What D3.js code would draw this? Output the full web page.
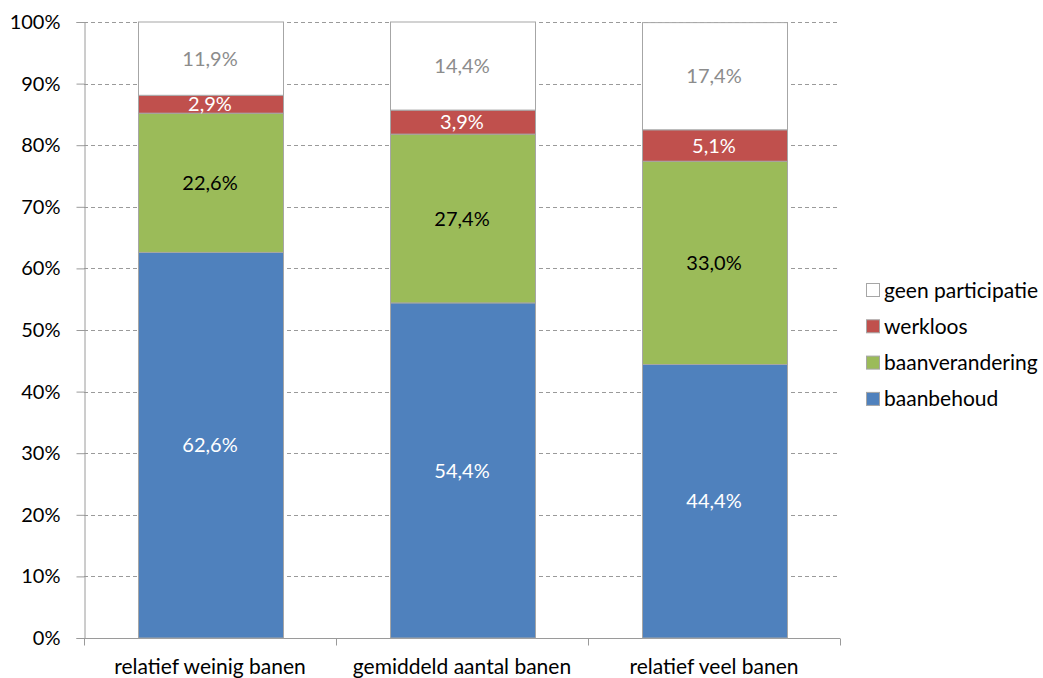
<!DOCTYPE html>
<html>
<head>
<meta charset="utf-8">
<script src="https://cdn.jsdelivr.net/npm/d3@7"></script>
<style>
  body { margin: 0; background: #fff; }
  svg text { font-family: Lato, "Open Sans", sans-serif; }
</style>
</head>
<body>
<div id="chart"></div>
<script>
  // Data
  var categories = ["relatief weinig banen", "gemiddeld aantal banen", "relatief veel banen"]
  var seriesNames = ["baanbehoud", "baanverandering", "werkloos", "geen participatie"]
  var baanbehoud = [62.6, 54.4, 44.4]
  var baanverandering = [22.6, 27.4, 33.0]
  var werkloos = [2.9, 3.9, 5.1]
  var geenParticipatie = [11.9, 14.4, 17.4]
  var yTicks = [0, 10, 20, 30, 40, 50, 60, 70, 80, 90, 100]

  var colors = {
    "baanbehoud": "#4F81BD",
    "baanverandering": "#9BBB59",
    "werkloos": "#C0504D",
    "geen participatie": "#FFFFFF"
  }
  var labelColors = {
    "baanbehoud": "#ffffff",
    "baanverandering": "#000000",
    "werkloos": "#ffffff",
    "geen participatie": "#8c8c8c"
  }

  var width = 1043
  var height = 678
  var margin = { left: 84, right: 203, top: 22, bottom: 40 }
  var fs = 21

  var svg = d3.select("#chart")
    .append("svg")
    .attr("width", width)
    .attr("height", height)

  // Build rows for the stack
  var rows = categories.map(function (c, i) {
    return {
      cat: c,
      "baanbehoud": baanbehoud[i],
      "baanverandering": baanverandering[i],
      "werkloos": werkloos[i],
      "geen participatie": geenParticipatie[i]
    }
  })
  var stacked = d3.stack().keys(seriesNames)(rows)

  var x = d3.scaleBand()
    .domain(categories)
    .range([margin.left, width - margin.right])
    .paddingInner(0.425)
    .paddingOuter(0.2125)

  var y = d3.scaleLinear()
    .domain([0, 100])
    .range([height - margin.bottom, margin.top])

  // gridlines
  svg.append("g")
    .selectAll("line")
    .data(yTicks.filter(function (d) { return d > 0 }))
    .enter()
    .append("line")
    .attr("x1", margin.left)
    .attr("x2", width - margin.right)
    .attr("y1", function (d) { return Math.round(y(d)) + 0.5 })
    .attr("y2", function (d) { return Math.round(y(d)) + 0.5 })
    .attr("stroke", "#9a9a9a")
    .attr("stroke-width", 1)
    .attr("stroke-dasharray", "4,3")

  // y axis
  var yAxis = svg.append("g")
    .attr("transform", "translate(" + (margin.left + 0.5) + ",0)")
    .call(d3.axisLeft(y).tickValues(yTicks).tickSize(8).tickPadding(16)
      .tickFormat(function (d) { return d + "%" }))
  yAxis.selectAll("text").attr("font-size", 20).attr("fill", "#000")
    .attr("font-family", "Lato, 'Open Sans', sans-serif")
  yAxis.selectAll("line").attr("stroke", "#9a9a9a")
  yAxis.select(".domain").attr("stroke", "#9a9a9a")

  // x axis
  var x0 = height - margin.bottom
  var xAxis = svg.append("g")
    .attr("transform", "translate(0," + (x0 + 0.5) + ")")
  xAxis.append("line")
    .attr("x1", margin.left).attr("x2", width - margin.right)
    .attr("stroke", "#9a9a9a")
  var bounds = d3.range(categories.length + 1).map(function (i) {
    return margin.left + i * (width - margin.left - margin.right) / categories.length
  })
  xAxis.selectAll(".tk")
    .data(bounds)
    .enter()
    .append("line")
    .attr("x1", function (d) { return Math.round(d) + 0.5 })
    .attr("x2", function (d) { return Math.round(d) + 0.5 })
    .attr("y1", 0).attr("y2", 7)
    .attr("stroke", "#9a9a9a")
  xAxis.selectAll("text")
    .data(categories)
    .enter()
    .append("text")
    .attr("x", function (d) { return x(d) + x.bandwidth() / 2 })
    .attr("y", 35)
    .attr("text-anchor", "middle")
    .attr("font-size", fs)
    .attr("fill", "#000")
    .text(function (d) { return d })

  // bars
  var groups = svg.append("g")
    .selectAll("g")
    .data(stacked)
    .enter()
    .append("g")

  groups.selectAll("rect")
    .data(function (s) { return s.map(function (d) { return { key: s.key, d: d } }) })
    .enter()
    .append("rect")
    .attr("x", function (o) { return Math.round(x(o.d.data.cat)) + 0.5 })
    .attr("width", Math.round(x.bandwidth()))
    .attr("y", function (o) { return y(Math.min(o.d[1], 100)) })
    .attr("height", function (o) { return y(o.d[0]) - y(Math.min(o.d[1], 100)) })
    .attr("fill", function (o) { return colors[o.key] })
    .attr("stroke", "#a6a6a6")
    .attr("stroke-width", 1)

  groups.selectAll("text")
    .data(function (s) { return s.map(function (d) { return { key: s.key, d: d } }) })
    .enter()
    .append("text")
    .attr("x", function (o) { return x(o.d.data.cat) + x.bandwidth() / 2 })
    .attr("y", function (o) { return (y(o.d[0]) + y(Math.min(o.d[1], 100))) / 2 })
    .attr("dy", "0.36em")
    .attr("text-anchor", "middle")
    .attr("font-size", 20)
    .attr("fill", function (o) { return labelColors[o.key] })
    .text(function (o) {
      return (o.d[1] - o.d[0]).toFixed(1).replace(".", ",") + "%"
    })

  // legend
  var legendOrder = seriesNames.slice().reverse()
  var legend = svg.append("g")
    .attr("transform", "translate(866,283)")
  var lg = legend.selectAll("g")
    .data(legendOrder)
    .enter()
    .append("g")
    .attr("transform", function (d, i) { return "translate(0," + (i * 36.3) + ")" })
  lg.append("rect")
    .attr("x", 0.5).attr("y", 0.5)
    .attr("width", 13).attr("height", 13)
    .attr("fill", function (d) { return colors[d] })
    .attr("stroke", "#a6a6a6")
  lg.append("text")
    .attr("x", 18)
    .attr("y", 7)
    .attr("dy", "0.36em")
    .attr("font-size", fs)
    .attr("fill", "#000")
    .text(function (d) { return d })
</script>
</body>
</html>
